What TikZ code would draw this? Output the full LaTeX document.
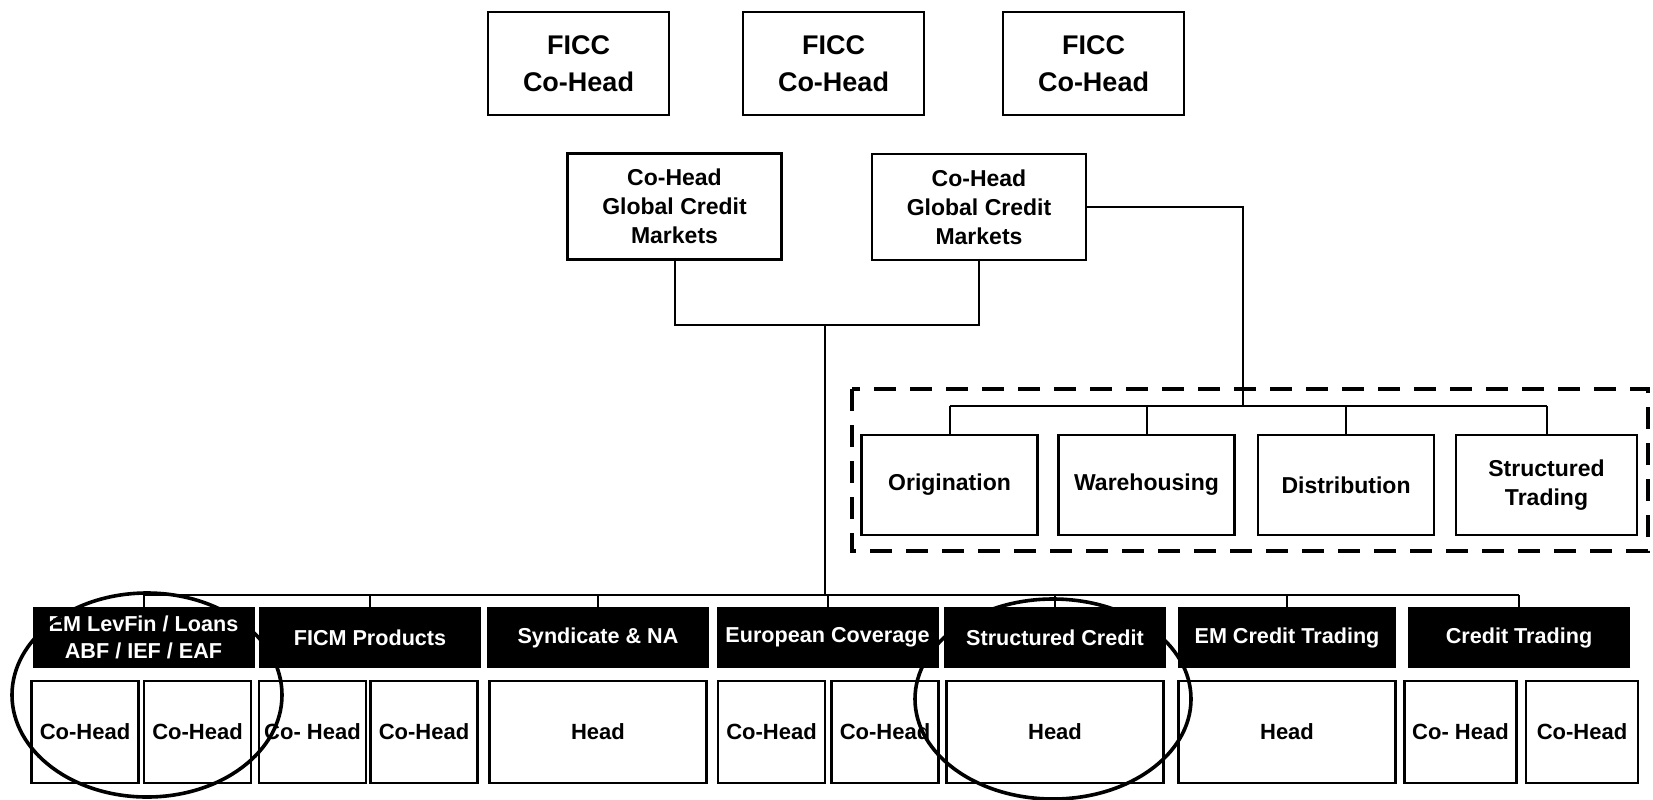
\documentclass[tikz,border=0pt]{standalone}
\usepackage{fontspec}
\setmainfont{Liberation Sans}
\usetikzlibrary{positioning}

\begin{document}
\begin{tikzpicture}[
    x=0.5pt, y=-0.5pt,
    box/.style={rectangle, draw, line width=1.2pt, align=center, inner sep=0pt, outer sep=0pt, font=\bfseries\fontsize{11.5}{14.5}\selectfont},
    ficc/.style={box, minimum width=90.5pt, minimum height=51.5pt, font=\bfseries\fontsize{13.5}{18.5}\selectfont},
    gcm/.style={box, minimum width=107pt, minimum height=53pt},
    unit/.style={box, minimum width=88pt, minimum height=50pt},
    hdr/.style={rectangle, fill=black, text=white, align=center, inner sep=0pt, outer sep=0pt, minimum width=111pt, minimum height=30.5pt, font=\bfseries\fontsize{10.8}{13.5}\selectfont},
    half/.style={box, minimum width=53.5pt, minimum height=51pt, font=\bfseries\fontsize{11}{13}\selectfont},
    full/.style={half, minimum width=108.5pt},
    line/.style={line width=1pt},
    group/.style={line width=2.2pt, dash pattern=on 11pt off 7pt},
    ring/.style={line width=1.8pt},
    node distance=6.5pt
]
\useasboundingbox (0,0) rectangle (1653,799);

% top
\node[ficc] (ficc1) at (578.5,63.5) {FICC\\Co-Head};
\node[ficc] (ficc2) at (833.5,63.5) {FICC\\Co-Head};
\node[ficc] (ficc3) at (1093.5,63.5) {FICC\\Co-Head};

\node[gcm] (gcm1) at (674.5,206.5) {Co-Head\\Global Credit\\Markets};
\node[gcm] (gcm2) at (979,207) {Co-Head\\Global Credit\\Markets};

% structured group
\node[unit] (orig) at (949.5,485) {Origination};
\node[unit] (ware) at (1146.5,485) {Warehousing};
\node[unit] (dist) at (1346,485) {Distribution};
\node[unit, minimum width=90.5pt] (strad) at (1546.5,485) {Structured\\Trading};
\draw[group] (852,389) rectangle (1648,551);

% business lines
\node[hdr] (em) at (143.5,637.5) {EM LevFin / Loans\\ABF / IEF / EAF};
\node[hdr] (ficm) at (370,637.5) {FICM Products};
\node[hdr] (synd) at (598,637.5) {Syndicate \& NA};
\node[hdr] (euro) at (827.5,637.5) {European Coverage};
\node[hdr] (struc) at (1055,637.5) {Structured Credit};
\node[hdr, minimum width=109pt] (emct) at (1287,637.5) {EM Credit Trading};
\node[hdr] (ct) at (1519,637.5) {Credit Trading};

\node[half] (em1) at (85,732) {Co-Head};
\node[half] (em2) at (197.5,732) {Co-Head};
\node[half] (ficm1) at (312.5,732) {Co- Head};
\node[half] (ficm2) at (424,732) {Co-Head};
\node[full, below=of synd] (synd1) {Head};
\node[half] (euro1) at (771.5,732) {Co-Head};
\node[half] (euro2) at (885,732) {Co-Head};
\node[full, below=of struc] (struc1) {Head};
\node[full, below=of emct] (emct1) {Head};
\node[half, minimum width=56pt] (ct1) at (1460.5,732) {Co- Head};
\node[half, minimum width=56pt] (ct2) at (1582,732) {Co-Head};

% lines
\coordinate (hub) at (825,325);
\coordinate (bar) at (825,595);
\coordinate (split) at (1243,406);
\draw[line] (gcm1.south) |- (hub) -| (gcm2.south);
\draw[line] (hub) -- (bar);
\draw[line] (em.north |- bar) -- (ct.north |- bar);
\foreach \n in {em,ficm,synd,euro,struc,emct,ct}
    \draw[line] (\n.north |- bar) -- (\n.north);
\draw[line] (gcm2.east) -| (split);
\draw[line] (orig.north |- split) -- (strad.north |- split);
\foreach \n in {orig,ware,dist,strad}
    \draw[line] (\n.north |- split) -- (\n.north);

% circled
\draw[ring] (147,695) ellipse [x radius=67.5pt, y radius=51pt];
\draw[ring] (1053,699) ellipse [x radius=69pt, y radius=50pt];

\end{tikzpicture}
\end{document}
